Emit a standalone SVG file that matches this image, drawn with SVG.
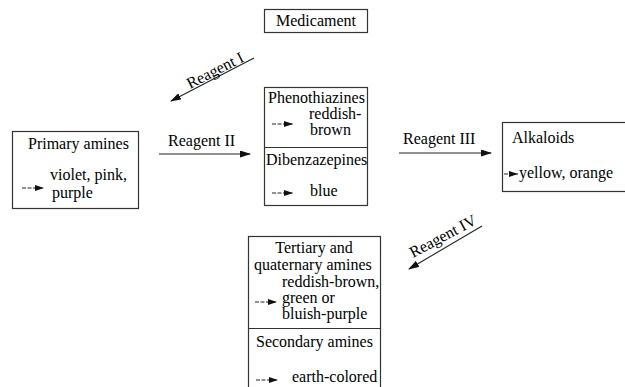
<svg xmlns="http://www.w3.org/2000/svg" width="625" height="387" viewBox="0 0 625 387">
<defs>
<style>
text{font-family:"Liberation Serif","Times New Roman",serif;font-size:16px;fill:#000}
.box{fill:#fff;stroke:#333;stroke-width:1.2}
.div{stroke:#333;stroke-width:1.2}
.conn{stroke:#222;stroke-width:1.1;fill:none;marker-end:url(#ah)}
.sm{stroke:#222;stroke-width:1;fill:none;marker-end:url(#ahs);stroke-dasharray:4 1.5}
</style>
<marker id="ah" markerWidth="11" markerHeight="7" refX="10" refY="3.5" orient="auto" markerUnits="userSpaceOnUse"><path d="M0,0 L11,3.5 L0,7 z" fill="#111"/></marker>
<marker id="ahs" markerWidth="9" markerHeight="6" refX="9" refY="3" orient="auto" markerUnits="userSpaceOnUse"><path d="M0,0 L9,3 L0,6 z" fill="#111"/></marker>
</defs>
<rect width="625" height="387" fill="#fff"/>

<g id="medicament">
<rect class="box" x="264.5" y="9.5" width="103" height="23"/>
<text x="316" y="26" text-anchor="middle">Medicament</text>
</g>

<g id="primary-amines">
<rect class="box" x="12.5" y="131.5" width="126" height="77"/>
<text x="28" y="149">Primary amines</text>
<line class="sm" x1="22" y1="188" x2="44" y2="188"/>
<text x="50" y="180">violet, pink,</text>
<text x="52" y="198">purple</text>
</g>

<g id="phenothiazines-dibenzazepines">
<rect class="box" x="264.5" y="87.5" width="103" height="118"/>
<line class="div" x1="264.5" y1="147.5" x2="367.5" y2="147.5"/>
<text x="268" y="103">Phenothiazines</text>
<line class="sm" x1="272" y1="124" x2="293" y2="124"/>
<text x="309" y="119">reddish-</text>
<text x="310" y="135">brown</text>
<text x="266" y="165">Dibenzazepines</text>
<line class="sm" x1="272" y1="193" x2="293" y2="193"/>
<text x="310" y="196">blue</text>
</g>

<g id="alkaloids">
<rect class="box" x="502.5" y="122.5" width="130" height="69"/>
<text x="512" y="143">Alkaloids</text>
<line class="sm" x1="504" y1="174" x2="518" y2="174"/>
<text x="519" y="178">yellow, orange</text>
</g>

<g id="amines">
<rect class="box" x="248.5" y="236.5" width="132" height="160"/>
<line class="div" x1="248.5" y1="328.5" x2="380.5" y2="328.5"/>
<text x="314" y="253" text-anchor="middle">Tertiary and</text>
<text x="254" y="270">quaternary amines</text>
<text x="282" y="287">reddish-brown,</text>
<line class="sm" x1="255" y1="302" x2="277" y2="302"/>
<text x="282" y="303">green or</text>
<text x="282" y="319">bluish-purple</text>
<text x="256" y="347">Secondary amines</text>
<line class="sm" x1="256" y1="380" x2="278" y2="380"/>
<text x="292" y="382">earth-colored</text>
</g>

<g id="connectors">
<line class="conn" x1="254" y1="58" x2="171" y2="101"/>
<text transform="translate(190,89) rotate(-27)">Reagent I</text>
<line class="conn" x1="159" y1="154" x2="250" y2="154"/>
<text x="168" y="146">Reagent II</text>
<line class="conn" x1="399" y1="153" x2="491" y2="153"/>
<text x="403" y="144">Reagent III</text>
<line class="conn" x1="482" y1="226" x2="409" y2="269"/>
<text transform="translate(413,258) rotate(-28)">Reagent IV</text>
</g>
</svg>
